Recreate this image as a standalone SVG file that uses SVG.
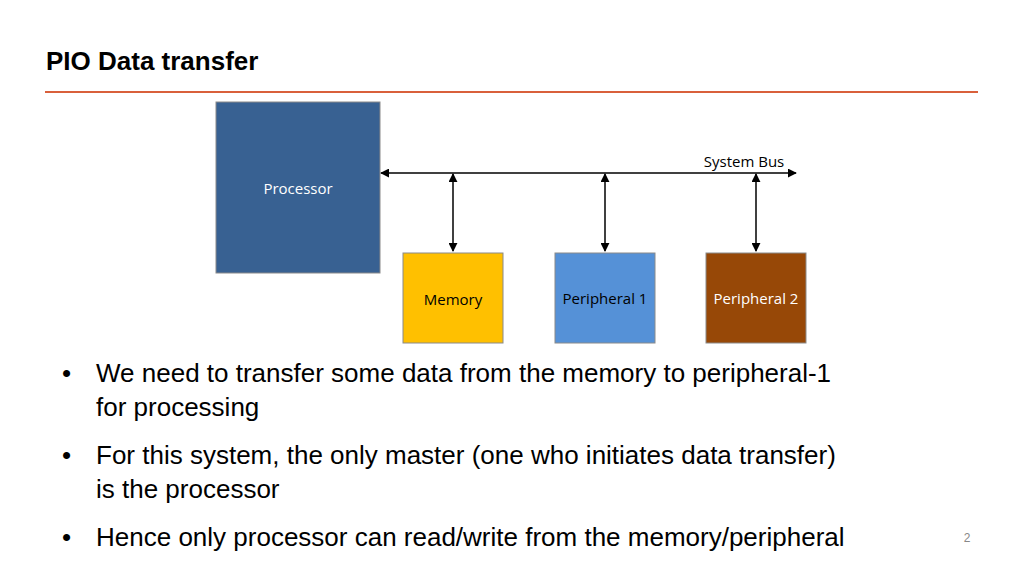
<svg xmlns="http://www.w3.org/2000/svg" width="1024" height="576" viewBox="0 0 1024 576">
<style>
.b{stroke:#8a8a8a;stroke-width:1}
.l{font-family:"Open Sans","Liberation Sans",sans-serif;font-size:15px;text-anchor:middle}
.t{font-family:"Liberation Sans",Arial,sans-serif;font-size:26px;fill:#000}
.c{stroke:#000;stroke-width:1.5;fill:none;marker-start:url(#a);marker-end:url(#a)}
</style>
<defs><marker id="a" viewBox="0 0 10 10" refX="9" refY="5" markerWidth="6" markerHeight="6" orient="auto-start-reverse"><path d="M0,0L10,5L0,10z" fill="#000"/></marker></defs>
<rect width="1024" height="576" fill="#fff"/>
<text x="46" y="70" font-family="Liberation Sans,Arial,sans-serif" font-size="26" font-weight="bold">PIO Data transfer</text>
<line x1="45" y1="92" x2="978" y2="92" stroke="#d9603b" stroke-width="2"/>
<g id="processor"><rect x="216" y="102" width="164" height="171" fill="#386192" class="b"/><text x="298" y="194" class="l" fill="#fff">Processor</text></g>
<g id="memory"><rect x="403" y="253" width="100" height="90" fill="#ffc000" class="b"/><text x="453" y="305" class="l" font-size="16" fill="#000">Memory</text></g>
<g id="p1"><rect x="555" y="253" width="100" height="90" fill="#5591d7" class="b"/><text x="605" y="304" class="l" font-size="14" fill="#000">Peripheral 1</text></g>
<g id="p2"><rect x="706" y="253" width="100" height="90" fill="#974807" class="b"/><text x="756" y="304" class="l" font-size="14" fill="#fff">Peripheral 2</text></g>
<text x="744" y="167" class="l" fill="#000">System Bus</text>
<g id="connectors">
<line x1="381" y1="173" x2="796" y2="173" class="c"/>
<line x1="453" y1="174" x2="453" y2="251" class="c"/>
<line x1="605" y1="174" x2="605" y2="251" class="c"/>
<line x1="756" y1="174" x2="756" y2="251" class="c"/>
</g>
<g class="t">
<text x="62" y="382">•</text><text x="96" y="382">We need to transfer some data from the memory to peripheral-1</text>
<text x="96" y="416">for processing</text>
<text x="62" y="464">•</text><text x="96" y="464">For this system, the only master (one who initiates data transfer)</text>
<text x="96" y="498">is the processor</text>
<text x="62" y="546">•</text><text x="96" y="546">Hence only processor can read/write from the memory/peripheral</text>
</g>
<text x="967" y="542" font-family="Liberation Sans,Arial,sans-serif" font-size="12" fill="#888" text-anchor="middle">2</text>
</svg>
